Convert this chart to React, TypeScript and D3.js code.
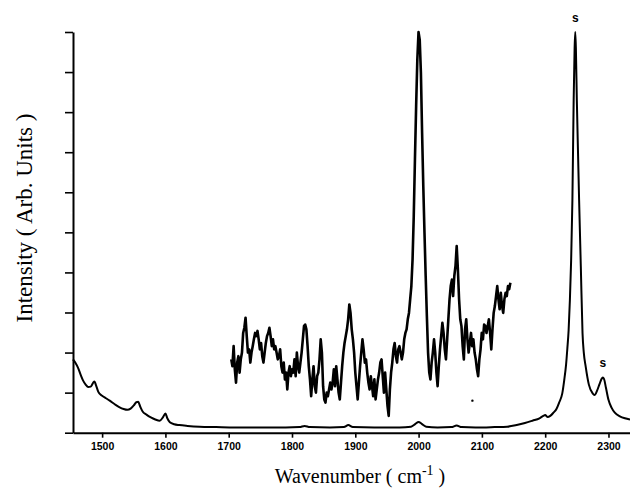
import React, { useEffect, useRef } from "react";
import * as d3 from "d3";

// x axis tick values (cm-1)
const xTicks = [1500, 1600, 1700, 1800, 1900, 2000, 2100, 2200, 2300];
const yTickValues = [0, 1, 2, 3, 4, 5, 6, 7, 8, 9, 10];

// full spectrum
const mainWavenumber = [
  1454, 1458, 1462, 1466, 1470, 1474, 1478, 1482, 1486, 1488,
  1490, 1494, 1500, 1506, 1512, 1520, 1527, 1534, 1540, 1545,
  1550, 1554, 1557, 1560, 1564, 1570, 1577, 1584, 1591, 1596,
  1600, 1603, 1607, 1614, 1622, 1635, 1654, 1680, 1710, 1750,
  1790, 1812, 1820, 1828, 1860, 1882, 1889, 1896, 1930, 1970,
  1988, 1995, 2000, 2005, 2012, 2030, 2052, 2060, 2068, 2090,
  2120, 2140, 2155, 2168, 2180, 2191, 2197, 2200, 2204, 2208,
  2213, 2218, 2222, 2227, 2230, 2233, 2235, 2237, 2239, 2241,
  2243, 2245, 2246.5, 2247.5, 2248.5, 2250, 2252, 2253.6, 2256.3, 2259,
  2261, 2264, 2269, 2275, 2278, 2282, 2286, 2289, 2291, 2293,
  2296, 2300, 2305, 2310, 2318, 2326, 2334,
];
const mainIntensity = [
  1.83, 1.74, 1.62, 1.45, 1.3, 1.2, 1.14, 1.15, 1.25, 1.28,
  1.2, 1.02, 0.92, 0.86, 0.8, 0.71, 0.64, 0.59, 0.57, 0.6,
  0.68, 0.76, 0.77, 0.66, 0.53, 0.45, 0.38, 0.33, 0.3, 0.38,
  0.48, 0.36, 0.26, 0.21, 0.19, 0.17, 0.15, 0.14, 0.13, 0.13,
  0.13, 0.14, 0.17, 0.14, 0.13, 0.14, 0.19, 0.14, 0.13, 0.13,
  0.15, 0.22, 0.27, 0.22, 0.15, 0.13, 0.14, 0.18, 0.14, 0.13,
  0.14, 0.15, 0.19, 0.24, 0.3, 0.36, 0.42, 0.44, 0.39, 0.42,
  0.5, 0.6, 0.75, 0.98, 1.3, 1.7, 2.1, 2.55, 3.3, 4.3,
  5.8, 8.3, 9.6, 10.0, 9.6, 8.3, 6.9, 5.8, 4.15, 2.48,
  2.0, 1.65, 1.2, 0.98, 0.94, 1.05, 1.22, 1.34, 1.38, 1.34,
  1.12, 0.82, 0.62, 0.5, 0.41, 0.36, 0.33,
];

// magnified scan, evenly sampled between these two wavenumbers
const zoomStart = 1704;
const zoomEnd = 2145;
const zoomIntensity = [
  1.83, 1.66, 2.16, 1.58, 1.25, 1.75, 1.91, 1.5, 1.83, 2.0,
  2.49, 2.62, 2.87, 2.41, 2.0, 2.08, 1.75, 2.0, 2.16, 2.33,
  2.49, 2.41, 2.54, 2.33, 2.08, 2.24, 1.91, 1.75, 2.0, 2.24,
  2.41, 2.49, 2.62, 2.41, 2.16, 2.33, 2.08, 2.16, 2.0, 1.83,
  1.91, 2.08, 1.66, 1.5, 1.75, 1.33, 1.5, 1.08, 1.5, 1.66,
  1.41, 1.58, 1.5, 1.83, 1.41, 2.0, 1.66, 1.5, 1.75, 2.0,
  2.33, 2.66, 2.7, 2.58, 2.16, 1.66, 1.33, 0.91, 1.33, 1.66,
  1.16, 1.0, 1.41, 1.5, 1.83, 2.33, 2.0, 1.16, 0.83, 0.75,
  1.0, 0.91, 1.08, 1.25, 1.08, 1.25, 1.58, 1.16, 1.66, 1.33,
  1.0, 0.83, 1.25, 1.66, 2.0, 2.24, 2.41, 2.58, 2.83, 3.2,
  2.99, 2.58, 2.33, 2.0, 1.5, 1.16, 0.83, 1.25, 1.66, 2.0,
  2.33, 2.08, 1.75, 1.83, 1.5, 1.25, 1.08, 1.41, 1.16, 0.91,
  1.33, 0.83, 1.08, 1.33, 1.5, 1.75, 1.83, 1.41, 1.0, 1.5,
  1.08, 0.67, 0.42, 1.08, 1.5, 1.75, 2.08, 2.24, 1.91, 1.75,
  2.08, 2.16, 2.0, 1.83, 2.0, 2.33, 2.49, 2.58, 2.83, 2.99,
  3.33, 3.66, 4.32, 5.4, 6.82, 8.15, 9.31, 10.0, 9.81, 8.98,
  7.48, 6.15, 4.99, 3.91, 2.91, 2.0, 1.5, 1.33, 1.75, 2.0,
  2.33, 2.0, 1.5, 1.16, 1.66, 2.08, 2.41, 2.74, 2.49, 2.08,
  1.83, 2.33, 2.83, 3.33, 3.66, 3.82, 3.41, 3.91, 4.16, 4.66,
  4.07, 3.33, 2.83, 2.66, 2.16, 1.83, 2.58, 2.83, 2.33, 2.0,
  2.24, 2.49, 2.16, 2.33, 2.0, 1.83, 1.58, 1.41, 1.83, 2.08,
  2.49, 2.33, 2.7, 2.66, 2.49, 2.66, 2.83, 2.49, 2.08, 2.58,
  2.99, 3.16, 3.41, 3.66, 3.33, 3.08, 3.49, 3.16, 2.99, 3.33,
  3.49, 3.41, 3.66, 3.58, 3.74,
];

// "s" marks over the solvent peaks
const markLabel = ["s", "s"];
const markWavenumber = [2247.5, 2291];
const markIntensity = [10, 1.38];

// stray speck in the original scan
const speckWavenumber = [2085];
const speckIntensity = [0.8];

export default function App() {
  const ref = useRef<HTMLDivElement>(null);

  useEffect(() => {
    const root = d3.select(ref.current);
    root.selectAll("*").remove();

    const W = 630,
      H = 498;
    const margin = { top: 32, left: 73, bottom: 65 };

    const svg = root
      .append("svg")
      .attr("width", W)
      .attr("height", H)
      .style("display", "block")
      .style("background", "#fff");

    const x = d3.scaleLinear().domain([1454, 2334]).range([margin.left, W]);
    const y = d3
      .scaleLinear()
      .domain([0, 10])
      .range([H - margin.bottom - 0.3, margin.top]);

    const line = d3
      .line<[number, number]>()
      .x((d) => x(d[0]))
      .y((d) => y(d[1]));

    const mainData: [number, number][] = mainWavenumber.map((w, i) => [w, mainIntensity[i]]);
    const step = (zoomEnd - zoomStart) / (zoomIntensity.length - 1);
    const zoomData: [number, number][] = zoomIntensity.map((v, i) => [zoomStart + i * step, v]);

    // axes
    const yAxis = d3
      .axisLeft(y)
      .tickValues(yTickValues)
      .tickSize(8)
      .tickSizeOuter(0)
      .tickFormat(() => "");
    const gy = svg
      .append("g")
      .attr("transform", "translate(" + margin.left + ",0)")
      .call(yAxis);
    gy.select(".domain").attr("stroke-width", 2);
    gy.selectAll(".tick line").attr("stroke-width", 1.6);

    const xAxis = d3
      .axisBottom(x)
      .tickValues(xTicks)
      .tickSize(5)
      .tickSizeOuter(0)
      .tickPadding(5)
      .tickFormat((d) => String(d));
    const gx = svg
      .append("g")
      .attr("transform", "translate(0," + y(0) + ")")
      .call(xAxis);
    gx.select(".domain").attr("stroke-width", 2);
    gx.selectAll(".tick line").attr("stroke-width", 1.6);
    gx.selectAll(".tick text")
      .attr("font-family", "'Liberation Sans', Arial, sans-serif")
      .attr("font-weight", "bold")
      .attr("font-size", 10.5)
      .attr("fill", "#000");

    // traces
    svg
      .append("path")
      .datum(mainData)
      .attr("d", line.curve(d3.curveMonotoneX))
      .attr("fill", "none")
      .attr("stroke", "#000")
      .attr("stroke-width", 2)
      .attr("stroke-linejoin", "round");

    svg
      .append("path")
      .datum(zoomData)
      .attr("d", line.curve(d3.curveLinear))
      .attr("fill", "none")
      .attr("stroke", "#000")
      .attr("stroke-width", 2.6)
      .attr("stroke-linejoin", "round");

    svg
      .selectAll(".speck")
      .data(speckWavenumber)
      .enter()
      .append("circle")
      .attr("class", "speck")
      .attr("cx", (d) => x(d))
      .attr("cy", (d, i) => y(speckIntensity[i]))
      .attr("r", 1.2)
      .attr("fill", "#000");

    svg
      .selectAll(".mark")
      .data(markLabel)
      .enter()
      .append("text")
      .attr("class", "mark")
      .attr("x", (d, i) => x(markWavenumber[i]))
      .attr("y", (d, i) => y(markIntensity[i]) - 10)
      .attr("text-anchor", "middle")
      .attr("font-family", "'Liberation Sans', Arial, sans-serif")
      .attr("font-weight", "bold")
      .attr("font-size", 12)
      .text((d) => d);

    // axis titles
    const xt = svg
      .append("text")
      .attr("x", 360)
      .attr("y", 483)
      .attr("text-anchor", "middle")
      .attr("font-family", "'Liberation Serif', 'Times New Roman', serif")
      .attr("font-size", 20)
      .attr("fill", "#000");
    xt.append("tspan").text("Wavenumber ( cm");
    xt.append("tspan").attr("dy", -8).attr("font-size", 14).text("-1");
    xt.append("tspan").attr("dy", 8).text(" )");

    svg
      .append("text")
      .attr("transform", "translate(32,218) rotate(-90)")
      .attr("text-anchor", "middle")
      .attr("font-family", "'Liberation Serif', 'Times New Roman', serif")
      .attr("font-size", 23)
      .attr("fill", "#000")
      .text("Intensity ( Arb. Units )");
  }, []);

  return <div ref={ref} style={{ position: "absolute", left: 0, top: 0 }}></div>;
}
